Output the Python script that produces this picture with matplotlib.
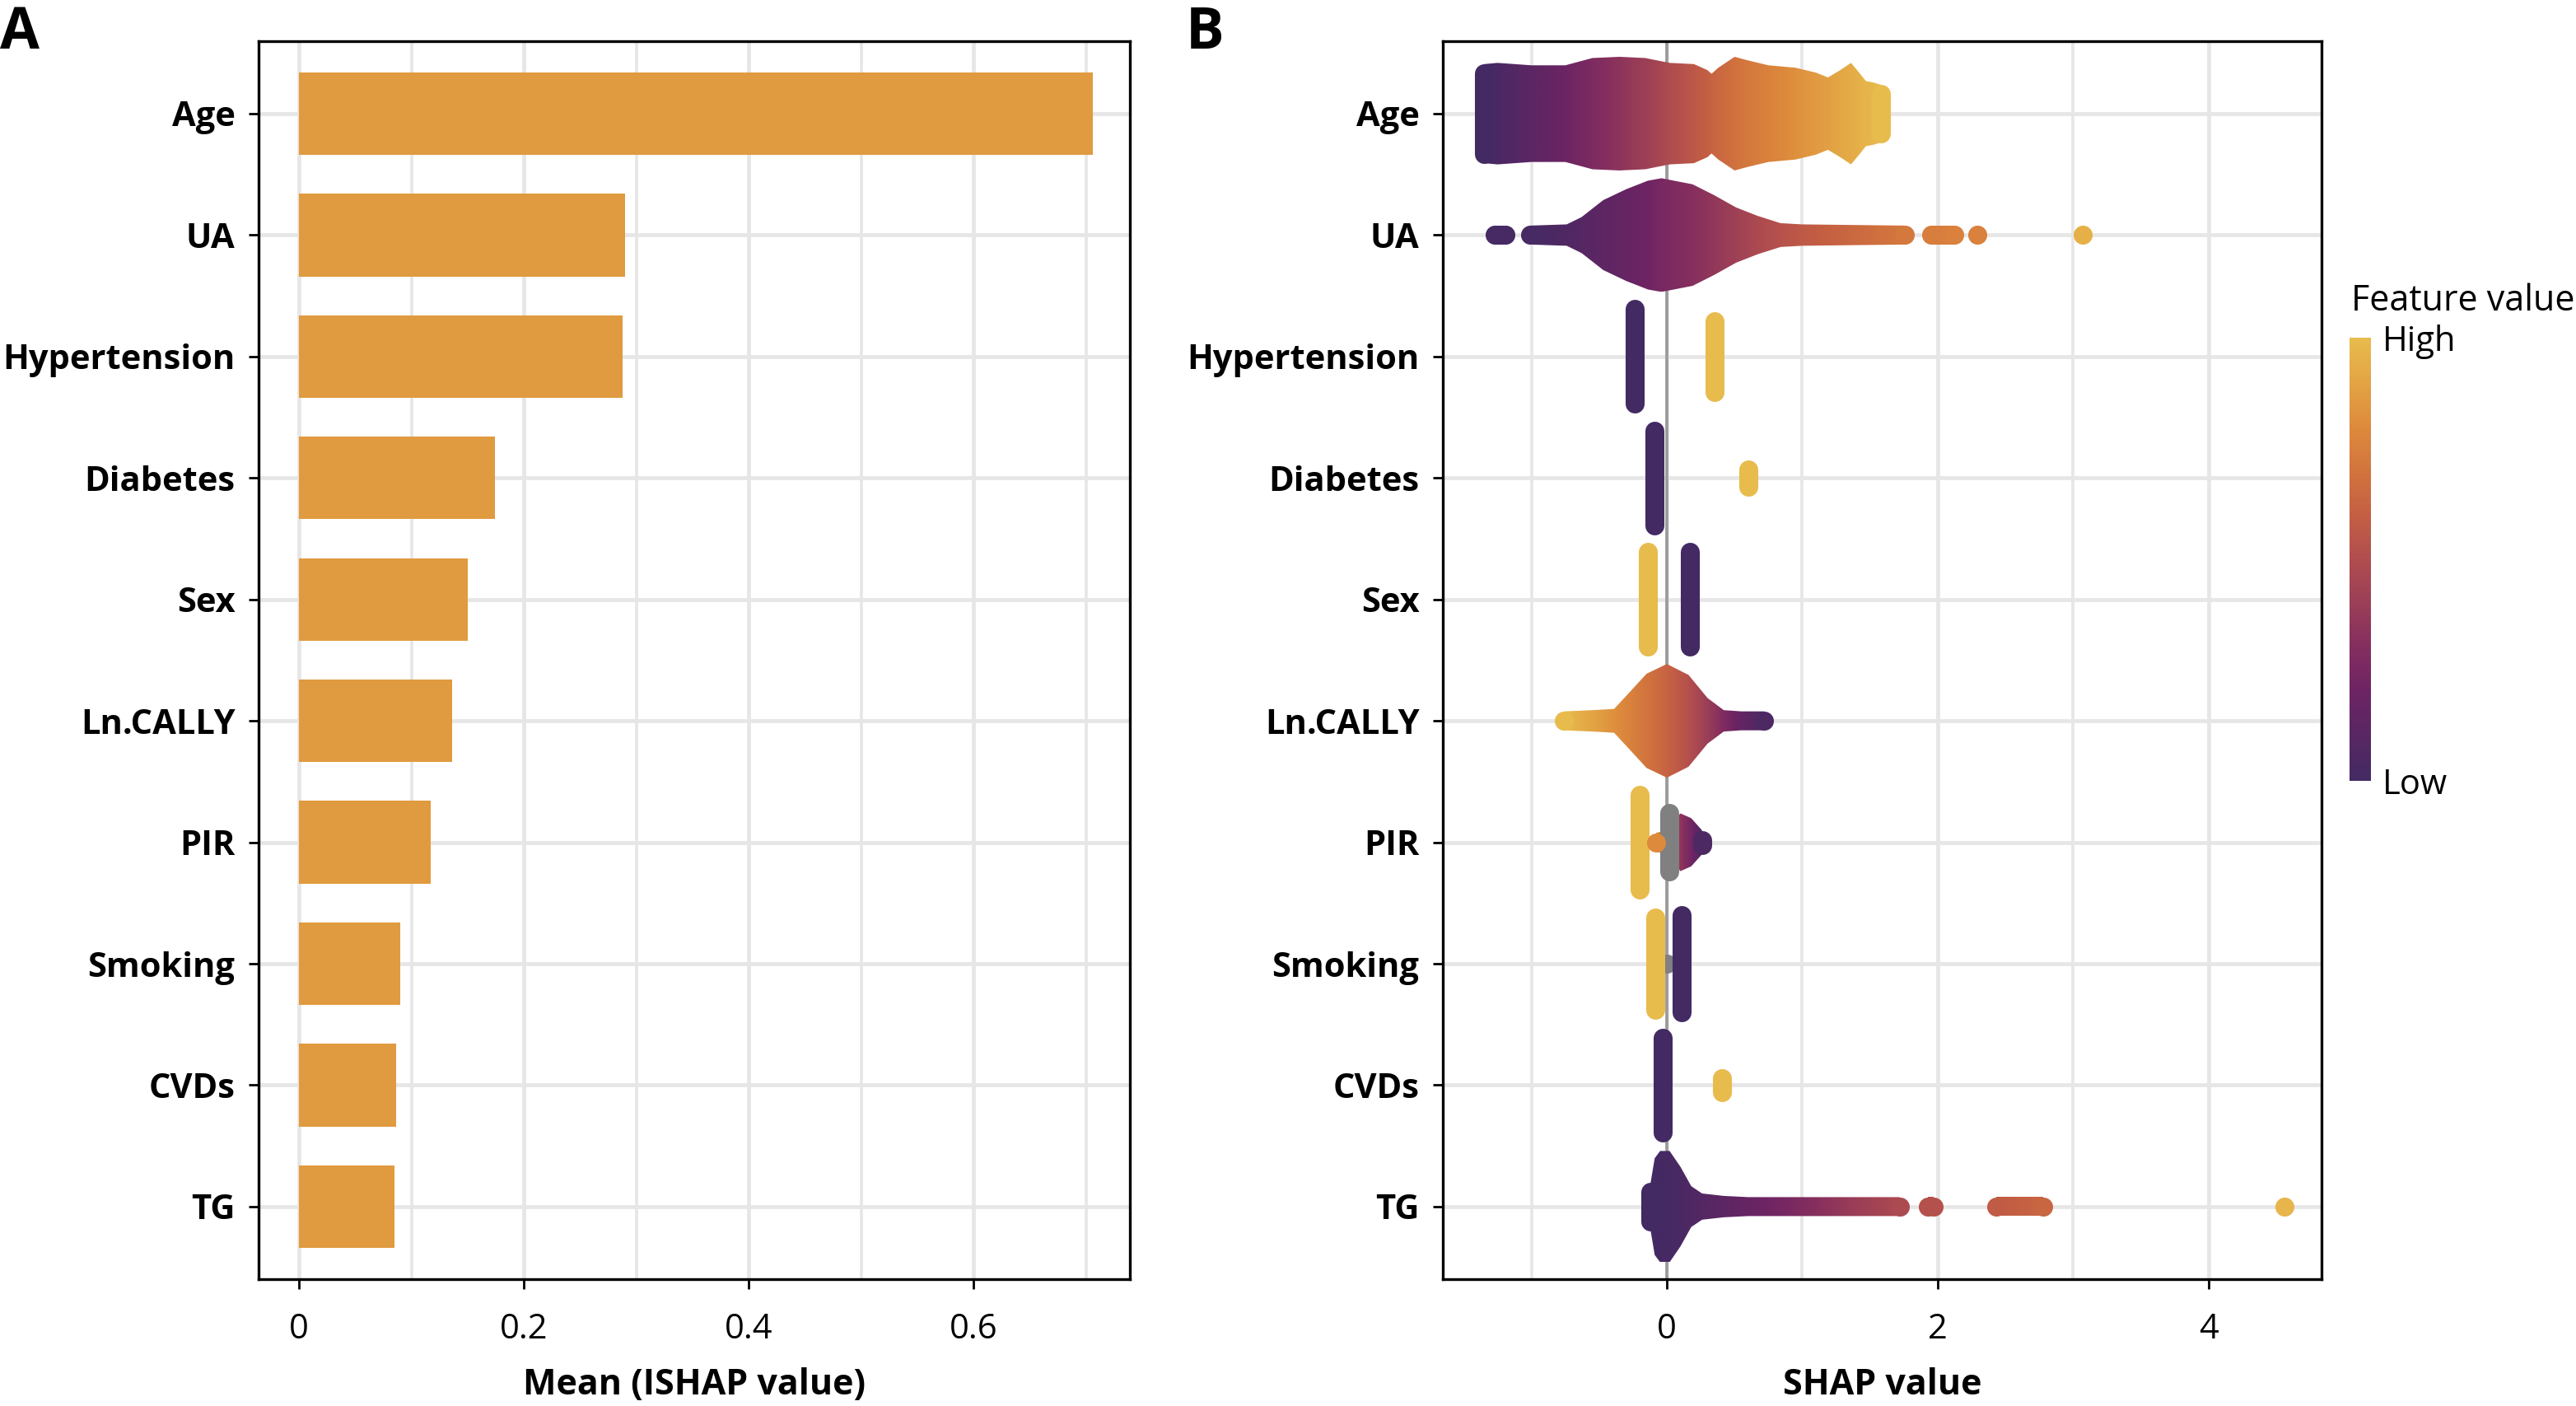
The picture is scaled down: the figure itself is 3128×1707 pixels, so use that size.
import numpy as np
import matplotlib
matplotlib.use("Agg")
import matplotlib.pyplot as plt
from matplotlib import font_manager as fm
from matplotlib.colors import LinearSegmentedColormap
from matplotlib.patches import Polygon
from matplotlib.ticker import MultipleLocator
import matplotlib.cm as cm

# pick a humanist sans that really has a bold face installed
def has_bold(name):
    for f in fm.fontManager.ttflist:
        if f.name == name:
            w = f.weight if isinstance(f.weight, int) else fm.weight_dict.get(f.weight, 400)
            if w >= 600:
                return True
    return False

FONT = 'DejaVu Sans'
for cand in ['Open Sans', 'Noto Sans', 'Lato', 'Roboto', 'Liberation Sans']:
    if has_bold(cand):
        FONT = cand
        break
plt.rcParams['font.family'] = [FONT, 'DejaVu Sans']

# === Data ===
features = ["Age", "UA", "Hypertension", "Diabetes", "Sex",
            "Ln.CALLY", "PIR", "Smoking", "CVDs", "TG"]
mean_abs_shap = [0.706, 0.290, 0.288, 0.174, 0.150, 0.136, 0.117, 0.090, 0.086, 0.085]

# beeswarm outlines: (shap knots, half spread, feature value 0..1, None = NA)
age_groups = [
    ([-1.35, -1.25, -1.0, -0.75, -0.55, -0.35, -0.16, 0.02, 0.2, 0.3, 0.33, 0.38,
      0.5, 0.6, 0.75, 0.95, 1.1, 1.19, 1.28, 1.36, 1.42, 1.47, 1.52, 1.58],
     [0.33, 0.34, 0.32, 0.32, 0.38, 0.39, 0.38, 0.34, 0.33, 0.28, 0.25, 0.30,
      0.39, 0.36, 0.32, 0.30, 0.26, 0.22, 0.28, 0.34, 0.26, 0.19, 0.18, 0.16],
     [0.0, 0.04, 0.12, 0.2, 0.27, 0.34, 0.41, 0.49, 0.56, 0.6, 0.62, 0.64,
      0.69, 0.72, 0.76, 0.82, 0.86, 0.88, 0.91, 0.93, 0.95, 0.97, 0.98, 1.0]),
]
ua_groups = [
    ([-1.27, -1.19], [0, 0], [0.02, 0.02]),
    ([-1.01, -0.74, -0.63, -0.47, -0.30, -0.14, -0.04, 0.19, 0.35, 0.51, 0.67, 0.84, 1.0, 1.76],
     [0, 0.01, 0.07, 0.21, 0.30, 0.37, 0.39, 0.34, 0.25, 0.15, 0.08, 0.02, 0.01, 0],
     [0.02, 0.06, 0.09, 0.13, 0.17, 0.21, 0.25, 0.31, 0.36, 0.42, 0.48, 0.53, 0.57, 0.72]),
    ([1.95, 2.12], [0, 0], [0.74, 0.76]),
    ([2.29], [0], [0.76]),
    ([3.07], [0], [0.95]),
]
hyp_groups = [([-0.24], [0.39], [0.0]), ([0.35], [0.29], [1.0])]
dia_groups = [([-0.09], [0.39], [0.0]), ([0.60], [0.07], [1.0])]
sex_groups = [([-0.14], [0.39], [1.0]), ([0.17], [0.39], [0.0])]
cally_groups = [
    ([-0.76, -0.55, -0.39, -0.29, -0.15, 0.0, 0.16, 0.30, 0.42, 0.55, 0.72],
     [0, 0.01, 0.02, 0.14, 0.31, 0.39, 0.30, 0.11, 0.01, 0, 0],
     [1.0, 0.9, 0.82, 0.77, 0.70, 0.62, 0.52, 0.40, 0.28, 0.15, 0.05]),
]
pir_groups = [
    ([-0.20], [0.39], [1.0]),
    ([0.02], [0.24], [None]),
    ([-0.08, 0.0, 0.10, 0.18, 0.26], [0, 0.02, 0.16, 0.12, 0.02], [0.8, 0.62, 0.35, 0.22, 0.05]),
]
smoking_groups = [([0.0], [0], [None]), ([-0.085], [0.38], [1.0]), ([0.107], [0.40], [0.0])]
cvd_groups = [([-0.03], [0.39], [0.0]), ([0.405], [0.06], [1.0])]
tg_groups = [
    ([-0.12, -0.09, -0.05, 0.02, 0.10, 0.18, 0.26, 0.42, 0.6, 1.0, 1.4, 1.72],
     [0.12, 0.32, 0.38, 0.38, 0.25, 0.09, 0.03, 0.01, 0, 0, 0, 0],
     [0.0, 0.0, 0.01, 0.02, 0.04, 0.06, 0.08, 0.12, 0.17, 0.28, 0.40, 0.48]),
    ([1.93, 1.97], [0, 0], [0.52, 0.52]),
    ([2.43, 2.78], [0, 0], [0.58, 0.63]),
    ([4.56], [0], [0.97]),
]
swarms = [age_groups, ua_groups, hyp_groups, dia_groups, sex_groups,
          cally_groups, pir_groups, smoking_groups, cvd_groups, tg_groups]

cmap_colors = ['#432A63', '#582763', '#6D2464', '#842E5F', '#9B3E57', '#B04D4F',
               '#C45F43', '#D2743E', '#DD8A3C', '#E3A444', '#E8BB4D']
cmap = LinearSegmentedColormap.from_list("feat", cmap_colors)
NA_COL = '#808080'
BAR_COL = '#E09A3F'
GRID_COL = '#E6E6E6'
DOT_LW = 8.3   # dot diameter in points
DOT_RY = 0.078  # dot radius in category units

def col(v):
    return NA_COL if v is None else cmap(v)

def draw_pill(ax, x, yc, h, c):
    # a column of dots: a single dot or a vertical pill with round ends
    if h == 0:
        ax.scatter([x], [yc], s=DOT_LW ** 2, color=col(c), lw=0, zorder=3.5)
    else:
        ax.plot([x, x], [yc - h, yc + h], color=col(c), lw=DOT_LW,
                solid_capstyle='round', zorder=3.5)

def draw_group(ax, yc, xs, hs, cs):
    if len(xs) == 1:
        draw_pill(ax, xs[0], yc, hs[0], cs[0])
        return
    # rounded ends
    draw_pill(ax, xs[0], yc, hs[0], cs[0])
    draw_pill(ax, xs[-1], yc, hs[-1], cs[-1])
    # body: gradient clipped to the outline
    top = [yc - h - DOT_RY for h in hs]
    bot = [yc + h + DOT_RY for h in hs]
    verts = list(zip(xs, top)) + list(zip(xs[::-1], bot[::-1]))
    clip = Polygon(verts, closed=True, transform=ax.transData, fc='none', ec='none')
    xg = np.linspace(xs[0], xs[-1], 300)
    grad = cmap(np.interp(xg, xs, cs))[np.newaxis, :, :]
    im = ax.imshow(grad, extent=(xs[0], xs[-1], max(bot), min(top)), aspect='auto',
                   interpolation='bilinear', zorder=3)
    im.set_clip_path(clip)

def style_axes(ax):
    for s in ax.spines.values():
        s.set_color('black')
        s.set_linewidth(1.2)
    ax.set_axisbelow(True)
    ax.grid(which='major', color=GRID_COL, lw=1.7)
    ax.grid(which='minor', axis='x', color=GRID_COL, lw=1.3)
    ax.tick_params(which='major', length=4.3, width=1.0, color='black')
    ax.tick_params(axis='x', which='major', labelsize=15, pad=10)
    ax.tick_params(axis='y', which='major', labelsize=15, pad=6)
    ax.tick_params(which='minor', length=0)
    ax.set_yticks(range(len(features)))
    ax.set_yticklabels(features, fontweight='bold')
    ax.set_ylim(len(features) - 0.4, -0.6)

fig = plt.figure(figsize=(15.64, 8.535), dpi=200)

# === Panel A: mean |SHAP| bars ===
axA = fig.add_axes([0.1004, 0.090, 0.3382, 0.881])
axA.barh(range(len(features)), mean_abs_shap, height=0.68, color=BAR_COL, zorder=2)
axA.set_xlim(-0.036, 0.739)
axA.xaxis.set_minor_locator(MultipleLocator(0.1))
axA.set_xticks([0, 0.2, 0.4, 0.6])
axA.set_xticklabels(['0', '0.2', '0.4', '0.6'])
style_axes(axA)
axA.set_xlabel("Mean (ISHAP value)", fontsize=15.5, fontweight='bold', labelpad=9)

# === Panel B: beeswarm ===
axB = fig.add_axes([0.5601, 0.090, 0.3411, 0.881])
axB.axvline(0, color='#999999', lw=1.3, zorder=2)
for i, groups in enumerate(swarms):
    for xs, hs, cs in groups:
        draw_group(axB, i, xs, hs, cs)
axB.set_xticks([0, 2, 4])
axB.set_xticklabels(['0', '2', '4'])
axB.xaxis.set_minor_locator(MultipleLocator(1))
style_axes(axB)
axB.set_xlim(-1.655, 4.835)
axB.set_xlabel("SHAP value", fontsize=15.5, fontweight='bold', labelpad=9)

# === Colour bar ===
cax = fig.add_axes([0.9121, 0.4446, 0.0083, 0.3152])
sm = cm.ScalarMappable(cmap=cmap, norm=plt.Normalize(0, 1))
cb = fig.colorbar(sm, cax=cax)
cb.outline.set_visible(False)
cb.set_ticks([0, 1])
cb.set_ticklabels(['Low', 'High'])
cax.tick_params(length=0, labelsize=15, pad=5)
fig.text(2855 / 3128, 1 - 366 / 1707, "Feature value", fontsize=15.5, va='center', ha='left')

# === Panel letters ===
fig.text(0.0, 1 - 6 / 1707, "A", fontsize=25, fontweight='bold', va='top', ha='left')
fig.text(1440 / 3128, 1 - 6 / 1707, "B", fontsize=25, fontweight='bold', va='top', ha='left')

fig.savefig("out.png", dpi=200)
